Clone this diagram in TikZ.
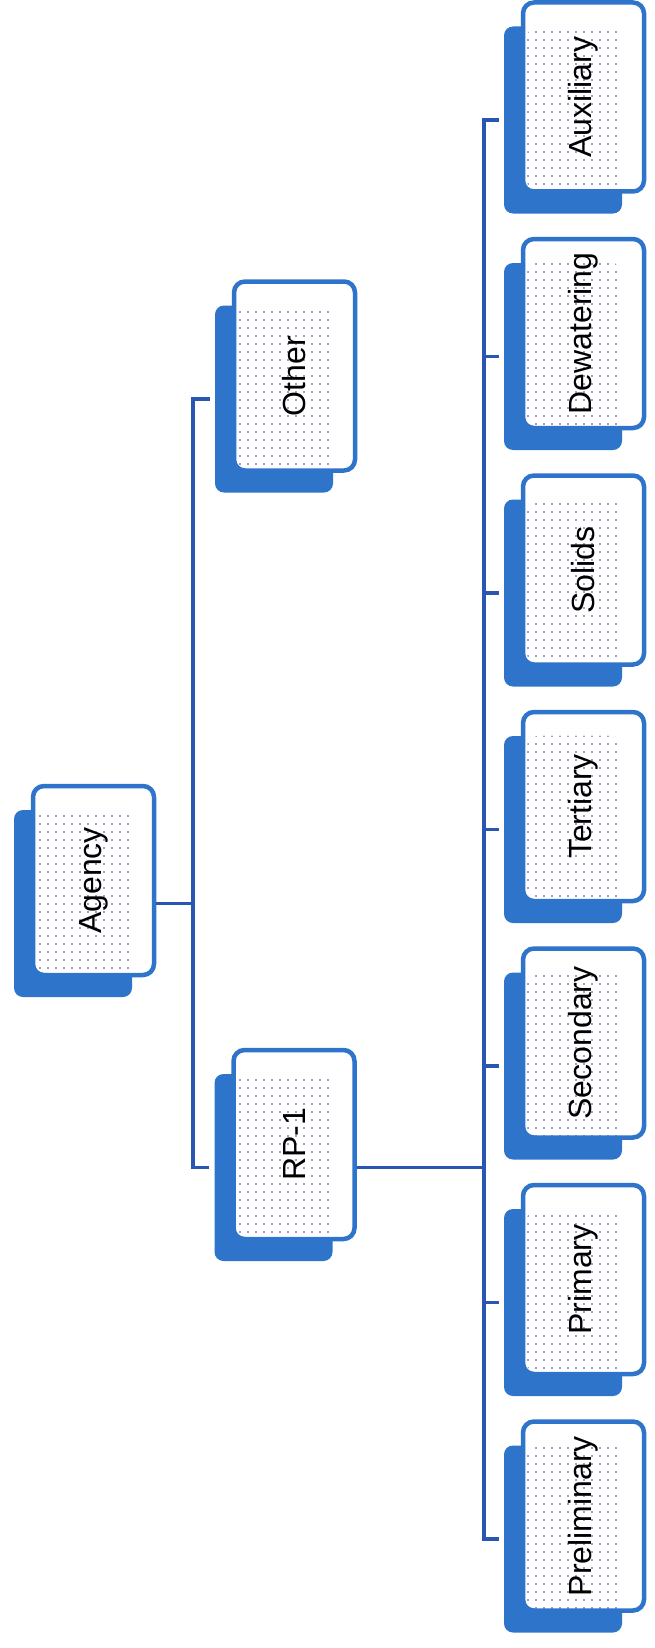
\documentclass[tikz,border=0pt]{standalone}
\usepackage{fontspec}
\setmainfont{Liberation Sans}
\usetikzlibrary{calc,patterns.meta}
\definecolor{boxblue}{RGB}{46,116,202}
\definecolor{linkblue}{RGB}{40,86,178}
\definecolor{dotblue}{RGB}{60,60,165}
\tikzset{
  shade box/.style={fill=boxblue, rounded corners=9pt, minimum width=118pt,
    minimum height=187pt, inner sep=0pt},
  unit box/.style={draw=boxblue, line width=4.5pt, fill=white, rounded corners=11pt,
    minimum width=121pt, minimum height=189pt, inner sep=0pt,
    font=\fontsize{32}{38}\selectfont},
  link/.style={draw=linkblue, line width=3.5pt},
  dot fill/.style={pattern={Dots[radius=0.95pt,distance=8pt]}, pattern color=dotblue}
}
\begin{document}
\begin{tikzpicture}[x=1pt,y=-1pt]
  \useasboundingbox (0,0) rectangle (654,1648);
  % units: shadow first, then the card on top of it
  \foreach \n/\x/\y/\t in {agency/73/903.5/Agency, other/274/399/Other, rp/273.5/1167.5/RP-1,
      aux/563/120/Auxiliary, dew/563/356.5/Dewatering, sol/563/593/Solids,
      ter/563/829.5/Tertiary, sec/563/1066/Secondary, pri/563/1302.5/Primary,
      pre/563/1539/Preliminary}
  {
    \node[shade box] (\n-s) at (\x,\y) {};
    \node[unit box, path picture={\fill[dot fill] ([xshift=4pt]path picture bounding box.west |- \n-s.north)
        rectangle (\n-s.east |- path picture bounding box.south);}]
      (\n) at ($(\n-s)+(20.5,-23)$) {\rotatebox{90}{\t}};
  }
  \coordinate (bus1) at (193,0);
  \coordinate (bus2) at (484,0);
  % agency level
  \draw[link] (agency.east |- agency-s.center) -- (bus1 |- agency-s.center);
  \draw[link] ([xshift=-5pt]other-s.west) -- (bus1 |- other-s.center)
    -- (bus1 |- rp-s.center) -- ([xshift=-5pt]rp-s.west);
  % plant level
  \draw[link] (rp.east |- rp-s.center) -- (bus2 |- rp-s.center);
  \draw[link] ([xshift=-5pt]aux-s.west) -- (bus2 |- aux-s.center)
    -- (bus2 |- pre-s.center) -- ([xshift=-5pt]pre-s.west);
  \foreach \n in {dew,sol,ter,sec,pri}
    \draw[link] (bus2 |- \n-s.center) -- ([xshift=-5pt]\n-s.west);
\end{tikzpicture}
\end{document}
